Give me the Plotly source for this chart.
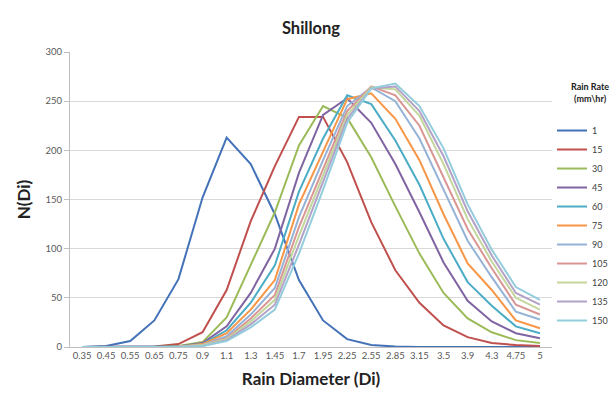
import plotly.graph_objects as go

diameters = ["0.35", "0.45", "0.55", "0.65", "0.75", "0.9", "1.1", "1.3", "1.45", "1.7",
             "1.95", "2.25", "2.55", "2.85", "3.15", "3.5", "3.9", "4.3", "4.75", "5"]

rain_rates = ["1", "15", "30", "45", "60", "75", "90", "105", "120", "135", "150"]

r1 = [0, 1, 6, 27, 69, 152, 213, 186, 135, 68, 27, 8, 2, 0.5, 0, 0, 0, 0, 0, 0]
r15 = [0, 0, 0, 0.5, 3, 15, 58, 128, 184, 234, 234, 188, 127, 78, 45, 22, 10, 4, 2, 1]
r30 = [0, 0, 0, 0, 1, 5, 30, 83, 137, 205, 245, 233, 193, 143, 95, 55, 29, 15, 7, 4]
r45 = [0, 0, 0, 0, 0.5, 4, 21, 55, 100, 177, 236, 253, 228, 186, 137, 86, 47, 26, 14, 9]
r60 = [0, 0, 0, 0, 0.5, 3, 17, 45, 83, 158, 212, 256, 247, 210, 165, 110, 66, 42, 21, 14]
r75 = [0, 0, 0, 0, 0.3, 3, 14, 38, 68, 145, 198, 252, 258, 232, 190, 135, 85, 58, 27, 19]
r90 = [0, 0, 0, 0, 0.3, 2, 11, 33, 60, 132, 190, 245, 264, 250, 212, 160, 108, 71, 36, 28]
r105 = [0, 0, 0, 0, 0.2, 2, 9, 29, 53, 122, 182, 240, 265, 256, 225, 173, 120, 80, 43, 33]
r120 = [0, 0, 0, 0, 0.2, 2, 8, 26, 48, 113, 175, 236, 264, 262, 235, 186, 130, 87, 50, 38]
r135 = [0, 0, 0, 0, 0.1, 1, 7, 23, 43, 104, 167, 232, 263, 265, 240, 194, 138, 93, 55, 43]
r150 = [0, 0, 0, 0, 0.1, 1, 6, 20, 38, 95, 160, 228, 263, 268, 245, 202, 145, 99, 61, 48]

series = [r1, r15, r30, r45, r60, r75, r90, r105, r120, r135, r150]
colors = ["#4472B8", "#C0504D", "#9BBB59", "#8064A2", "#4BACC6", "#F79646",
          "#95B3D7", "#D99694", "#C3D69B", "#B3A2C7", "#93CDDD"]

fig = go.Figure()
for i, (name, vals) in enumerate(zip(rain_rates, series)):
    fig.add_trace(go.Scatter(
        x=diameters, y=vals, name=name, mode="lines",
        line=dict(color=colors[i], width=2),
        legendgroup=name,
    ))

fig.add_annotation(
    text="<b>Rain Rate<br>(mm\\hr)</b>", xref="paper", yref="paper",
    x=(590 - 70) / 482, y=(347 - 92) / 295, xanchor="center", yanchor="middle",
    showarrow=False, align="center", font=dict(size=9, color="#222222"),
)

fig.update_layout(
    width=611, height=401,
    margin=dict(l=70, r=59, t=52, b=54, autoexpand=False),
    paper_bgcolor="white", plot_bgcolor="white",
    font=dict(family="Lato, Open Sans, sans-serif", color="#595959"),
    title=dict(text="<b>Shillong</b>", x=0.5, xref="paper", xanchor="center",
               y=1 - 28 / 401, yref="container", yanchor="middle",
               font=dict(size=16.5, color="#222222")),
    showlegend=True,
    legend=dict(
        x=1.0, xanchor="left", y=0.783, yanchor="top",
        font=dict(size=9, color="#404040"),
        tracegroupgap=0,
        traceorder="grouped",
        bgcolor="rgba(0,0,0,0)",
    ),
    xaxis=dict(
        type="category", range=[-0.5, 19.5],
        showgrid=False, showline=True, linecolor="#BFBFBF", linewidth=1,
        ticks="", tickfont=dict(size=9.5, color="#595959"),
        title=dict(text="<b>Rain Diameter (Di)</b>", font=dict(size=17, color="#222222"), standoff=12),
        fixedrange=True,
    ),
    yaxis=dict(
        range=[0, 300], tickvals=[0, 50, 100, 150, 200, 250, 300],
        showgrid=True, gridcolor="#D9D9D9", gridwidth=1,
        showline=True, linecolor="#BFBFBF", linewidth=1,
        ticks="outside", ticklen=5, tickcolor="#BFBFBF",
        tickfont=dict(size=9.5, color="#595959"),
        title=dict(text="<b>N(Di)</b>", font=dict(size=17, color="#222222"), standoff=10),
        zeroline=False,
    ),
)

fig.write_html("out.html")
